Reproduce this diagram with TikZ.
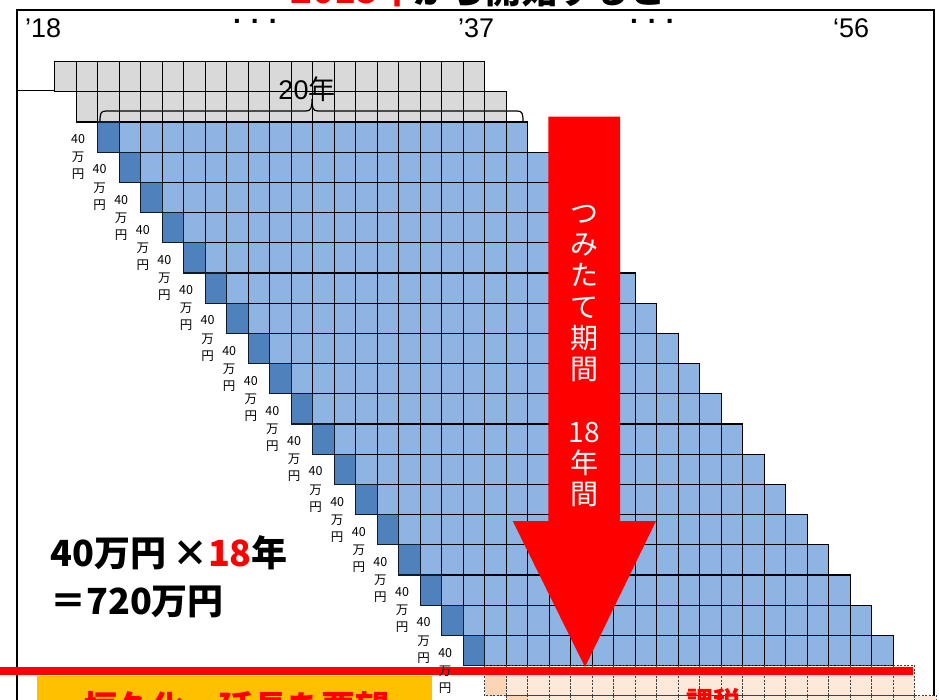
\documentclass[tikz,border=0pt]{standalone}
\usepackage{fontspec}
\setmainfont{Noto Sans CJK JP}
\newfontfamily\lat{Liberation Sans}
\definecolor{cgray}{HTML}{D9D9D9}
\definecolor{clblue}{HTML}{8EB4E3}
\definecolor{cdblue}{HTML}{4F81BD}
\definecolor{cpeach}{HTML}{FDE9D9}
\definecolor{cpeachd}{HTML}{FBD5B5}
\definecolor{corange}{HTML}{FFC000}
\definecolor{cred}{HTML}{FF0000}
\tikzset{
  cellg/.style={fill=cgray, draw=black, line width=1.2pt},
  cellb/.style={fill=clblue, draw=black, line width=1.2pt},
  celld/.style={fill=cdblue, draw=black!80!cdblue, line width=1.2pt},
  cellp/.style={fill=cpeach, draw=black!75, dashed, dash pattern=on 2pt off 1.5pt, line width=0.7pt},
  cellpd/.style={fill=cpeachd, draw=black!75, dashed, dash pattern=on 2pt off 1.5pt, line width=0.7pt},
  lab/.style={anchor=base, inner sep=0pt, font=\fontsize{12.5}{14}\selectfont},
  yearlab/.style={anchor=base west, inner sep=0pt, font=\lat\fontsize{27}{30}\selectfont},
  dots/.style={anchor=base west, inner sep=0pt, font=\lat\bfseries\fontsize{28}{30}\selectfont},
}
\begin{document}
\begin{tikzpicture}[x=1pt,y=-1pt]
\useasboundingbox (0,0) rectangle (939,699);
\clip (0,0) rectangle (939,699);
\def\cw{21.5}
\def\rh{30.2}
\def\xo{97.7}
\def\yo{122}
% title (cut off at the top)
\node[anchor=base west, inner sep=0pt, font=\bfseries\fontsize{36}{40}\selectfont] (title) at (290,3) {\textcolor{cred}{2018年}から開始すると};
% frame
\draw[line width=1.5pt] (17,10) rectangle (934,740);
\draw[line width=1.3pt] (17,90.7) -- (60,90.7);
% year labels
\node[yearlab] (y18) at (25,37) {’18};
\node[dots] (d1) at (233,23) {.\hspace{10pt}.\hspace{10pt}.};
\node[yearlab] (y37) at (458,37) {’37};
\node[dots] (d2) at (630,23) {.\hspace{10pt}.\hspace{10pt}.};
\node[yearlab] (y56) at (833,37) {‘56};
% gray rows
\foreach \r in {-2,-1}{
  \foreach \c in {0,...,19}{
    \draw[cellg] ({\xo+(\r+\c)*\cw},{\yo+\r*\rh}) rectangle ++(\cw,\rh);
  }
}
% brace
\draw[line width=1.2pt] (100,121.5) .. controls (100,113) and (101,111) .. (106,111) -- (306,111)
  .. controls (311,111) and (312,108) .. (312,99)
  .. controls (312,108) and (313,111) .. (318,111) -- (517,111)
  .. controls (522,111) and (523,113) .. (523,121.5);
\node[inner sep=0pt, font=\fontsize{27}{30}\selectfont] (twenty) at (307,89) {{\lat 20}年};
% blue rows
\foreach \r in {0,...,17}{
  \foreach \c in {1,...,19}{
    \draw[cellb] ({\xo+(\r+\c)*\cw},{\yo+\r*\rh}) rectangle ++(\cw,\rh);
  }
  \draw[celld] ({\xo+\r*\cw},{\yo+\r*\rh}) rectangle ++(\cw,\rh);
}
% peach rows
\foreach \r in {18,19}{
  \foreach \c in {1,...,19}{
    \draw[cellp] ({\xo+(\r+\c)*\cw},{\yo+\r*\rh}) rectangle ++(\cw,\rh);
  }
  \draw[cellpd] ({\xo+\r*\cw},{\yo+\r*\rh}) rectangle ++(\cw,\rh);
}
% big arrow
\fill[cred] (548.3,116.7) -- (620,116.7) -- (620,521) -- (656,521) -- (585,667) -- (512.7,521) -- (548.3,521) -- cycle;
\node[white, align=center, inner sep=0pt, font=\fontsize{28}{31.3}\selectfont] (period) at (584,356)
  {つ\\み\\た\\て\\期\\間\\[31.3pt]18\\年\\間};
% red baseline
\fill[cred] (0,666.7) rectangle (913,674.5);
% per-row labels
\foreach \r in {0,...,17}{
  \node[lab] (a\r) at ({78+21.6*\r},{143.6+30.2*\r}) {40};
  \node[lab] (b\r) at ({78+21.6*\r},{161.8+30.2*\r}) {万};
  \node[lab] (c\r) at ({78+21.6*\r},{178.8+30.2*\r}) {円};
}
% total
\node[anchor=base west, inner sep=0pt, font=\bfseries\fontsize{36}{40}\selectfont] (tot1) at (50,566) {40万円\,×\textcolor{cred}{18}年};
\node[anchor=base west, inner sep=0pt, font=\bfseries\fontsize{36}{40}\selectfont] (tot2) at (50,614) {＝720万円};
% bottom boxes
\fill[corange] (37,676) rectangle (432,740);
\node[anchor=base, inner sep=0pt, text=cred, font=\bfseries\fontsize{34}{38}\selectfont] (req) at (236,720) {恒久化・延長を要望};
\node[anchor=base, inner sep=0pt, text=cred, font=\bfseries\fontsize{27}{30}\selectfont] (tax) at (713,711) {課税};
\end{tikzpicture}
\end{document}
